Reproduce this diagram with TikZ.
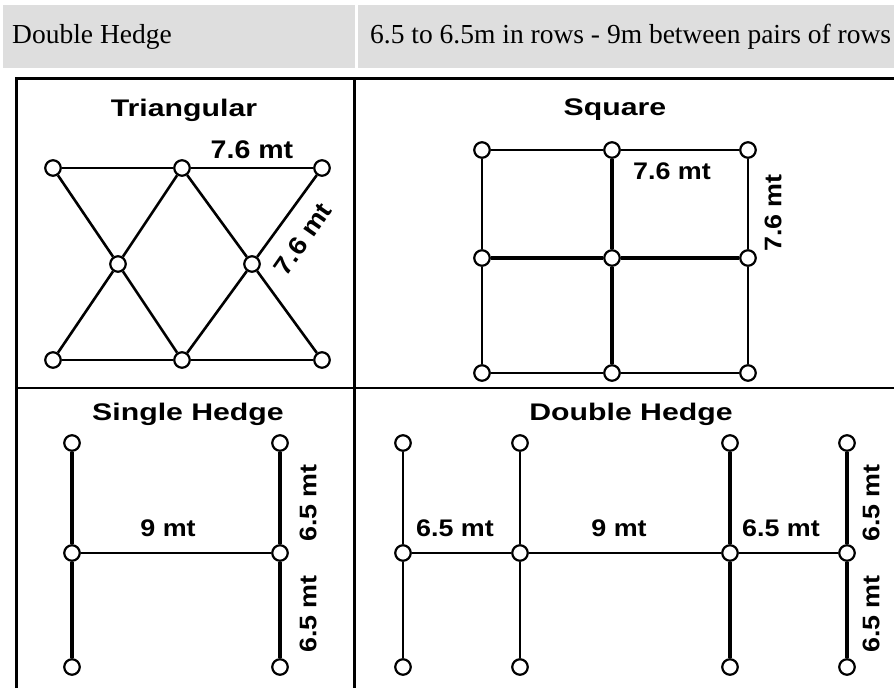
\documentclass[tikz,border=0pt]{standalone}
\usepackage{fontspec}
\setmainfont{Liberation Serif}
\newfontfamily\headfont[FakeStretch=1.26]{Liberation Sans}
\newfontfamily\lenfont[FakeStretch=1.12]{Liberation Sans}
\definecolor{cellgray}{HTML}{DEDEDE}
\def\lwthin{2pt}
\def\lwthick{3.4pt}
\tikzset{
  plant/.style={circle, draw, fill=white, line width=2.2pt, minimum size=15.5pt, inner sep=0pt},
  paneltitle/.style={anchor=base, inner sep=0pt, font=\headfont\bfseries\fontsize{24}{26}\selectfont},
  dimlabel/.style={inner sep=0pt, font=\lenfont\bfseries\fontsize{24}{26}\selectfont},
  celltext/.style={anchor=west, inner sep=0pt, font=\fontsize{27.5}{30}\selectfont},
}

\begin{document}
\begin{tikzpicture}[x=1pt, y=-1pt]
  \useasboundingbox (0,0) rectangle (894,688);

  \fill[cellgray] (3,5) rectangle (355,68);
  \fill[cellgray] (358,5) rectangle (894,68);
  \node[celltext] (hname) at (12,37) {Double Hedge};
  \node[celltext] (hspec) at (370,37) {6.5 to 6.5m in rows - 9m between pairs of rows};

  \draw[line width=3pt] (16,688) -- (16,78) -- (894,78);
  \draw[line width=3pt] (354,78) -- (354,688);
  \draw[line width=2pt] (16,388) -- (894,388);

  % triangular
  \node[paneltitle] (ttri) at (184,116) {Triangular};
  \node[plant] (t1) at (53,168) {};
  \node[plant] (t2) at (182,168) {};
  \node[plant] (t3) at (322,168) {};
  \node[plant] (t4) at (118,264) {};
  \node[plant] (t5) at (252,264) {};
  \node[plant] (t6) at (53,360) {};
  \node[plant] (t7) at (182,360) {};
  \node[plant] (t8) at (322,360) {};
  \draw[line width=1.8pt] (t1) -- (t2) -- (t3) (t6) -- (t7) -- (t8);
  \draw[line width=2.6pt] (t1) -- (t4) -- (t7) -- (t5) -- (t3);
  \draw[line width=2.6pt] (t6) -- (t4) -- (t2) -- (t5) -- (t8);
  \node[dimlabel, font=\lenfont\bfseries\fontsize{25.5}{28}\selectfont] (ltri) at (252,150) {7.6 mt};
  \node[dimlabel, rotate=55, font=\lenfont\bfseries\fontsize{25}{28}\selectfont] (ltrid) at (303,239) {7.6 mt};

  % square
  \node[paneltitle] (tsq) at (615,115) {Square};
  \node[plant] (s1) at (482,150) {};
  \node[plant] (s2) at (612,150) {};
  \node[plant] (s3) at (748,150) {};
  \node[plant] (s4) at (482,258) {};
  \node[plant] (s5) at (612,258) {};
  \node[plant] (s6) at (748,258) {};
  \node[plant] (s7) at (482,373) {};
  \node[plant] (s8) at (612,373) {};
  \node[plant] (s9) at (748,373) {};
  \draw[line width=\lwthin] (s1) -- (s2) -- (s3) -- (s6) -- (s9) -- (s8) -- (s7) -- (s4) -- (s1);
  \draw[line width=\lwthick] (s2) -- (s5) -- (s8) (s4) -- (s5) -- (s6);
  \node[dimlabel] (lsq) at (672,171) {7.6 mt};
  \node[dimlabel, rotate=90] (lsqv) at (773,213) {7.6 mt};

  % single hedge
  \node[paneltitle] (tsh) at (188,420) {Single Hedge};
  \node[plant] (h1) at (72,443) {};
  \node[plant] (h2) at (72,553) {};
  \node[plant] (h3) at (72,667) {};
  \node[plant] (h4) at (280,443) {};
  \node[plant] (h5) at (280,553) {};
  \node[plant] (h6) at (280,667) {};
  \draw[line width=\lwthick] (h1) -- (h2) -- (h3) (h4) -- (h5) -- (h6);
  \draw[line width=\lwthin] (h2) -- (h5);
  \node[dimlabel] (lsh) at (168,528) {9 mt};
  \node[dimlabel, rotate=90] (lshu) at (308,503) {6.5 mt};
  \node[dimlabel, rotate=90] (lshd) at (308,614) {6.5 mt};

  % double hedge
  \node[paneltitle] (tdh) at (631,420) {Double Hedge};
  \node[plant] (d1) at (403,443) {};
  \node[plant] (d2) at (403,553) {};
  \node[plant] (d3) at (403,667) {};
  \node[plant] (d4) at (520,443) {};
  \node[plant] (d5) at (520,553) {};
  \node[plant] (d6) at (520,667) {};
  \node[plant] (d7) at (730,443) {};
  \node[plant] (d8) at (730,553) {};
  \node[plant] (d9) at (730,667) {};
  \node[plant] (d10) at (847,443) {};
  \node[plant] (d11) at (847,553) {};
  \node[plant] (d12) at (847,667) {};
  \draw[line width=\lwthin] (d1) -- (d2) -- (d3) (d4) -- (d5) -- (d6);
  \draw[line width=\lwthick] (d7) -- (d8) -- (d9) (d10) -- (d11) -- (d12);
  \draw[line width=\lwthin] (d2) -- (d5) -- (d8) -- (d11);
  \node[dimlabel] (ldh1) at (455,528) {6.5 mt};
  \node[dimlabel] (ldh2) at (619,528) {9 mt};
  \node[dimlabel] (ldh3) at (781,528) {6.5 mt};
  \node[dimlabel, rotate=90] (ldhu) at (871,503) {6.5 mt};
  \node[dimlabel, rotate=90] (ldhd) at (871,614) {6.5 mt};
\end{tikzpicture}
\end{document}
